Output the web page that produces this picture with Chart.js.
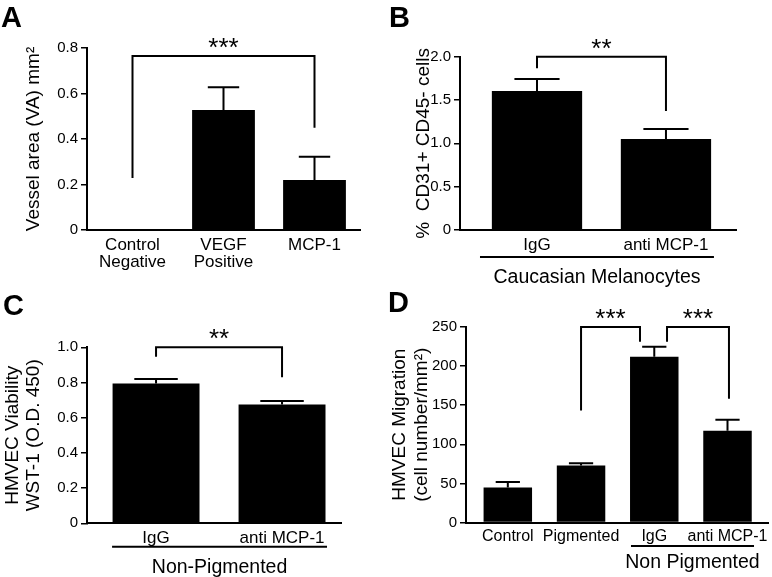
<!DOCTYPE html>
<html><head><meta charset="utf-8">
<script src="https://cdn.jsdelivr.net/npm/chart.js@4.4.0/dist/chart.umd.min.js"></script>
<style>
html,body{margin:0;padding:0;background:#fff;}
#wrap{position:relative;width:772px;height:577px;background:#fff;}
canvas{position:absolute;}
</style></head><body>
<div id="wrap">
<canvas id="cA" width="386" height="290" style="left:0;top:0"></canvas>
<canvas id="cB" width="386" height="290" style="left:386px;top:0"></canvas>
<canvas id="cC" width="386" height="287" style="left:0;top:290px"></canvas>
<canvas id="cD" width="386" height="287" style="left:386px;top:290px"></canvas>
</div>
<script>
// ---------- data ----------
const catsA = [['Control','Negative'], ['VEGF','Positive'], ['MCP-1']];
const meanA = [0, 0.527, 0.22];
const errA  = [null, 0.628, 0.322];
const yTicksA = [0, 0.2, 0.4, 0.6, 0.8];
const yLabelsA = ['0', '0.2', '0.4', '0.6', '0.8'];
const titleA = 'Vessel area (VA) mm²';
const bracketsA = [{x1: 0, x2: 2, top: 0.765, y1: 0.229, y2: 0.45, label: '***'}];

const catsB = ['IgG', 'anti MCP-1'];
const meanB = [1.604, 1.05];
const errB  = [1.742, 1.165];
const yTicksB = [0, 0.5, 1.0, 1.5, 2.0];
const yLabelsB = ['0', '0.5', '1.0', '1.5', '2.0'];
const titleB = '%  CD31+ CD45- cells';
const bracketsB = [{x1: 0, x2: 1, top: 2.0, y1: 1.866, y2: 1.373, label: '**'}];
const groupB = {x1: -0.442, x2: 1.372, label: 'Caucasian Melanocytes'};

const catsC = ['IgG', 'anti MCP-1'];
const meanC = [0.795, 0.675];
const errC  = [0.82, 0.695];
const yTicksC = [0, 0.2, 0.4, 0.6, 0.8, 1.0];
const yLabelsC = ['0', '0.2', '0.4', '0.6', '0.8', '1.0'];
const titleC = ['HMVEC Viability', 'WST-1 (O.D. 450)'];
const bracketsC = [{x1: 0, x2: 1, top: 1.0, y1: 0.947, y2: 0.83, label: '**'}];
const groupC = {x1: -0.349, x2: 1.357, label: 'Non-Pigmented'};

const catsD = ['Control', 'Pigmented', 'IgG', 'anti MCP-1'];
const meanD = [44.9, 72.8, 211.8, 117.3];
const errD  = [51.9, 75.9, 224.6, 131.4];
const yTicksD = [0, 50, 100, 150, 200, 250];
const yLabelsD = ['0', '50', '100', '150', '200', '250'];
const titleD = ['HMVEC Migration', '(cell number/mm²)'];
const bracketsD = [
  {x1: 1, x2: 1.805, top: 250, y1: 143.3, y2: 231, label: '***'},
  {x1: 2.174, x2: 3.02, top: 250, y1: 231, y2: 158.3, label: '***'}
];
const groupD = {x1: 1.682, x2: 3.362, label: 'Non Pigmented'};

// ---------- drawing ----------
const FONT = '"Liberation Sans", Arial, Helvetica, sans-serif';
Chart.defaults.font.family = FONT;
Chart.defaults.color = '#000';

const deco = {
  id: 'deco',
  afterDraw(chart, args, o) {
    const ctx = chart.ctx, xs = chart.scales.x, ys = chart.scales.y, ca = chart.chartArea;
    ctx.save();
    ctx.strokeStyle = '#000'; ctx.fillStyle = '#000'; ctx.lineWidth = 2;
    ctx.lineCap = 'butt'; ctx.lineJoin = 'miter';
    const meta = chart.getDatasetMeta(0);
    const errs = o.errors;
    meta.data.forEach((b, i) => {
      const e = errs[i];
      if (e == null) return;
      const yt = ys.getPixelForValue(e);
      const hw = b.width / 4;
      ctx.beginPath();
      ctx.moveTo(b.x, b.y); ctx.lineTo(b.x, yt);
      ctx.moveTo(b.x - hw, yt); ctx.lineTo(b.x + hw, yt);
      ctx.stroke();
    });
    o.brackets.forEach(br => {
      const x1 = xs.getPixelForValue(br.x1), x2 = xs.getPixelForValue(br.x2);
      const yt = ys.getPixelForValue(br.top);
      const y1 = ys.getPixelForValue(br.y1), y2 = ys.getPixelForValue(br.y2);
      ctx.beginPath();
      ctx.moveTo(x1, y1); ctx.lineTo(x1, yt); ctx.lineTo(x2, yt); ctx.lineTo(x2, y2);
      ctx.stroke();
      ctx.font = '26px ' + FONT;
      ctx.textAlign = 'center'; ctx.textBaseline = 'alphabetic';
      ctx.fillText(br.label, (x1 + x2) / 2, yt + o.starDy);
    });
    if (o.group) {
      const g = o.group;
      const x1 = xs.getPixelForValue(g.x1), x2 = xs.getPixelForValue(g.x2);
      const y = ca.bottom + o.groupDy;
      ctx.beginPath(); ctx.moveTo(x1, y); ctx.lineTo(x2, y); ctx.stroke();
      ctx.font = '19.5px ' + FONT;
      ctx.textAlign = 'center'; ctx.textBaseline = 'alphabetic';
      ctx.fillText(g.label, (x1 + x2) / 2, y + o.groupTextDy);
    }
    ctx.font = 'bold 29px ' + FONT;
    ctx.textAlign = 'left'; ctx.textBaseline = 'alphabetic';
    ctx.fillText(o.letter, o.lx, o.ly);
    ctx.restore();
  }
};

function makePanel(p) {
  return new Chart(document.getElementById(p.id), {
    type: 'bar',
    data: {
      datasets: [{
        data: p.mean.map((v, i) => ({x: i, y: v})),
        backgroundColor: '#000', borderWidth: 0,
        categoryPercentage: 1, barPercentage: p.bp
      }]
    },
    options: {
      responsive: false, animation: false, devicePixelRatio: 1,
      events: [],
      layout: {padding: {left: 0, top: p.T, right: p.R, bottom: 0}},
      plugins: {
        legend: {display: false}, tooltip: {enabled: false},
        deco: {
          errors: p.err, brackets: p.brackets, group: p.group || null,
          starDy: 0, groupDy: p.gDy || 0, groupTextDy: p.gTDy || 0,
          letter: p.letter, lx: p.lx, ly: p.ly
        }
      },
      scales: {
        x: {
          type: 'linear', min: p.xmin, max: p.xmax, offset: false,
          grid: {display: false, offset: false},
          border: {display: true, color: '#000', width: 2},
          ticks: {
            autoSkip: false, maxRotation: 0, minRotation: 0, padding: p.xpad,
            font: {size: p.xfs, lineHeight: 1.05}, color: '#000',
            callback: (v, i) => p.cats[i]
          },
          afterBuildTicks: s => { s.ticks = p.cats.map((c, i) => ({value: i})); },
          afterFit: s => { s.height = p.H; }
        },
        y: {
          min: 0, max: p.yt[p.yt.length - 1],
          grid: {drawOnChartArea: false, drawTicks: true, tickLength: 6, color: '#000', lineWidth: 1.5},
          border: {display: true, color: '#000', width: 2},
          ticks: {padding: 3, font: {size: 15}, color: '#000', callback: (v, i) => p.yl[i]},
          afterBuildTicks: s => { s.ticks = p.yt.map(v => ({value: v})); },
          afterFit: s => { s.width = p.L; },
          title: {display: true, text: p.title, color: '#000',
                  font: {size: 19, lineHeight: p.tlh}, padding: {top: p.tpad, bottom: 0}}
        }
      }
    },
    plugins: [deco]
  });
}

makePanel({id: 'cA', cats: catsA, mean: meanA, err: errA, yt: yTicksA, yl: yLabelsA, title: titleA,
  brackets: bracketsA, letter: 'A', lx: 1, ly: 27,
  T: 48, R: 26, L: 87, H: 60, xmin: -0.5, xmax: 2.5, bp: 0.69, xfs: 17, xpad: -2, tlh: 1.15, tpad: 22.5});

makePanel({id: 'cB', cats: catsB, mean: meanB, err: errB, yt: yTicksB, yl: yLabelsB, title: titleB,
  brackets: bracketsB, group: groupB, gDy: 27, gTDy: 26, letter: 'B', lx: 3, ly: 27,
  T: 56.7, R: 36, L: 74, H: 60, xmin: -0.597, xmax: 1.543, bp: 0.70, xfs: 17, xpad: -2, tlh: 1.15, tpad: 27});

makePanel({id: 'cC', cats: catsC, mean: meanC, err: errC, yt: yTicksC, yl: yLabelsC, title: titleC,
  brackets: bracketsC, group: groupC, gDy: 23.5, gTDy: 26, letter: 'C', lx: 3, ly: 25,
  T: 57.3, R: 45, L: 87, H: 53.7, xmin: -0.548, xmax: 1.468, bp: 0.69, xfs: 17, xpad: -2, tlh: 1.1, tpad: 2.5});

makePanel({id: 'cD', cats: catsD, mean: meanD, err: errD, yt: yTicksD, yl: yLabelsD, title: titleD,
  brackets: bracketsD, group: groupD, gDy: 23.5, gTDy: 22, letter: 'D', lx: 2, ly: 22,
  T: 37, R: 4, L: 80, H: 54.5, xmin: -0.571, xmax: 3.553, bp: 0.662, xfs: 16, xpad: -2, tlh: 1.16, tpad: 3});
</script>
</body></html>
